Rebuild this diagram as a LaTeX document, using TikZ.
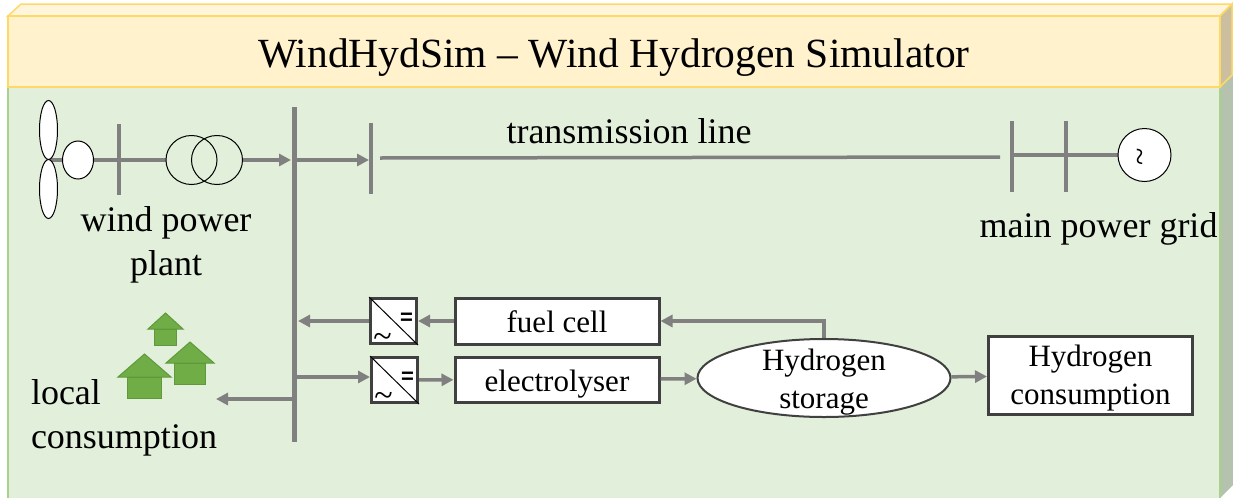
\documentclass[tikz,border=0pt]{standalone}
\usepackage{fontspec}
\setmainfont{Liberation Serif}
\newfontfamily\signfont{Liberation Sans}
\usetikzlibrary{arrows.meta,shapes.geometric}
\pgfdeclarelayer{background}
\pgfsetlayers{background,main}
\definecolor{linegray}{HTML}{808080}
\definecolor{boxgray}{HTML}{404040}
\definecolor{panelgreen}{HTML}{E2EFDA}
\definecolor{panelrim}{HTML}{A9D18E}
\definecolor{panelside}{HTML}{B5C3AE}
\definecolor{headyellow}{HTML}{FFF2CC}
\definecolor{headtop}{HTML}{FFF5DC}
\definecolor{headside}{HTML}{CCBF9F}
\definecolor{headrim}{HTML}{FFD966}
\definecolor{housegreen}{HTML}{70AD47}
\definecolor{houserim}{HTML}{5E9A3A}
\def\junctions{{(50, 160)/rotor}, {(291, 160)/busin}, {(297, 160)/busout}, {(369, 160)/lineend}, {(380, 158)/linestart}, {(1000, 157)/linestop}, {(1011, 155)/gridin}, {(298, 321)/busfuel}, {(297, 377)/buselec}, {(292, 399)/busload}, {(216, 399)/load}}
\def\buses{{(119, 124)/wa/(119, 195)/wb}, {(294.5, 107)/ma/(294.5, 442)/mb}, {(371, 123)/ta/(371, 194)/tb}, {(1011.5, 121)/ga/(1011.5, 192)/gb}, {(1066, 121)/ha/(1066, 192)/hb}}
\tikzstyle{label text}=[font=\fontsize{36}{44}\selectfont, align=center, inner sep=0pt]
\tikzstyle{box text}=[font=\fontsize{31}{38}\selectfont, align=center, inner sep=0pt]
\tikzstyle{edge}=[draw, line width=3.5pt, linegray]
\tikzstyle{flow}=[draw, line width=3.5pt, linegray, -{Triangle[length=12pt,width=12pt]}]
\tikzstyle{bus}=[draw, line width=4pt, linegray]
\tikzstyle{blade}=[ellipse, draw=black, fill=white, line width=1pt, minimum width=18pt, minimum height=59pt, inner sep=0pt]
\tikzstyle{coil}=[ellipse, draw=black, line width=1pt, minimum width=51pt, minimum height=49pt, inner sep=0pt]
\tikzstyle{block}=[rectangle, draw=boxgray, fill=white, line width=3pt, inner sep=0pt]
\tikzstyle{converter}=[block, minimum width=46pt, minimum height=45pt]
\tikzstyle{house}=[draw=houserim, fill=housegreen, line width=1pt]

\begin{document}
\begin{tikzpicture}[x=1pt, y=-1pt]
  \useasboundingbox (0, 0) rectangle (1233, 498);

  % The turbine and the transformer
  \node[blade] (bladeup) at (48.5, 130) {};
  \node[blade] (bladedown) at (48.5, 189) {};
  \node[blade, minimum width=31pt, minimum height=38pt] (hub) at (78, 160) {};
  \node[coil] (coila) at (191.5, 160) {};
  \node[coil] (coilb) at (217, 160) {};

  % The grid source
  \node[circle, draw=black, fill=white, line width=1pt, minimum size=53pt, inner sep=0pt] (source) at (1144.5, 155) {};
  \node[rotate=90, font=\fontsize{32}{32}\selectfont, inner sep=0pt] (sourcewave) at ([xshift=-1pt, yshift=-2pt]source.center) {\textasciitilde};

  % The blocks of the hydrogen branch
  \node[converter] (convfuel) at (393.5, 321) {};
  \node[converter] (convelec) at (394.5, 380) {};
  \node[block, minimum width=204pt, minimum height=46pt] (fuelcell) at (557, 321) {};
  \node[block, minimum width=204pt, minimum height=45pt] (electrolyser) at (557, 379.5) {};
  \node[ellipse, draw=boxgray, fill=white, line width=2pt, inner sep=0pt, minimum width=253pt, minimum height=78pt] (storage) at (824, 378) {};
  \node[block, minimum width=204pt, minimum height=78pt] (demand) at (1090.5, 375.5) {};

  % The texts of the blocks
  \foreach \block/\name/\shift/\words in {fuelcell/fuel/1/{fuel cell}, electrolyser/elec/5/{electrolyser}, storage/store/4/{Hydrogen\\storage}, demand/need/3/{Hydrogen\\consumption}}
    \node[box text] (\name text) at ([yshift=-\shift pt]\block.center) {\words};

  % The signs on the converters
  \foreach \conv/\name in {convfuel/a, convelec/b} {
    \draw[line width=1pt] (\conv.north west) -- (\conv.south east);
    \node[inner sep=0pt, font=\fontsize{22}{22}\selectfont\signfont\bfseries] (equal\name) at ([xshift=13pt, yshift=2pt]\conv.center) {=};
    \node[inner sep=0pt, font=\fontsize{34}{34}\selectfont] (wave\name) at ([xshift=-11pt, yshift=-19pt]\conv.center) {\textasciitilde};
  }

  % The texts
  \node[font=\fontsize{41.5}{44}\selectfont, inner sep=0pt] (title) at (614, 58) {WindHydSim -- Wind Hydrogen Simulator};
  \node[label text] (linetext) at (629, 131) {transmission line};
  \node[label text] (windtext) at (166, 245) {wind power\\plant};
  \node[label text] (gridtext) at (1098.5, 229) {main power grid};
  \node[label text, align=left] (loadtext) at (124, 418) {local\\consumption};

  % The ends of the lines
  \foreach \pos/\name in \junctions {
    \node[coordinate] (\name) at \pos {};
  }

  \begin{pgfonlayer}{background}
    % The box the diagram sits in
    \fill[panelside] (1220, 87) -- (1233, 75) -- (1233, 485) -- (1220, 498) -- cycle;
    \draw[panelrim, line width=1.5pt, fill=panelgreen] (8, 498) -- (8, 87) -- (1220, 87) -- (1220, 498);
    \draw[headrim, line width=1.5pt, fill=headtop] (8, 16) -- (21, 4) -- (1232, 4) -- (1220, 16) -- cycle;
    \draw[headrim, line width=1.5pt, fill=headside] (1220, 16) -- (1232, 4) -- (1232, 75) -- (1220, 87) -- cycle;
    \draw[headrim, line width=1.5pt, fill=headyellow] (8, 16) rectangle (1220, 87);

    \foreach \upper/\a/\lower/\b in \buses {
      \node[coordinate] (\a) at \upper {};
      \node[coordinate] (\b) at \lower {};
      \path[bus] (\a) -- (\b);
    }
    \path[bus, line width=5.5pt] (ma) -- (mb);

    % All the plain lines
    \foreach \source/\sink in {rotor/hub, hub/coila, linestart/linestop, gridin/source}
      \path[edge] (\source) -- (\sink);
  \end{pgfonlayer}

  % All the arrows
  \foreach \source/\sink in {coilb/busin, busout/lineend, fuelcell/convfuel, convfuel/busfuel, convelec/electrolyser, electrolyser/storage, storage/demand, busload/load}
    \path[flow] (\source) -- (\sink);
  \path[flow] (buselec) -- (buselec -| convelec.west);
  \path[flow] (storage.north) |- (fuelcell.east);

  % The three houses
  \foreach \x/\y/\w/\r/\h/\b/\n in {144.5/354/17/26.5/23/21/a, 190/342/15.5/24/21/21/b, 165.5/313/11/17.5/16/16/c} {
    \path[house] (\x-\r, \y+\h) -- (\x, \y) -- (\x+\r, \y+\h) -- cycle;
    \path[house] (\x-\w, \y+\h) rectangle (\x+\w, \y+\h+\b);
  }
\end{tikzpicture}
\end{document}
